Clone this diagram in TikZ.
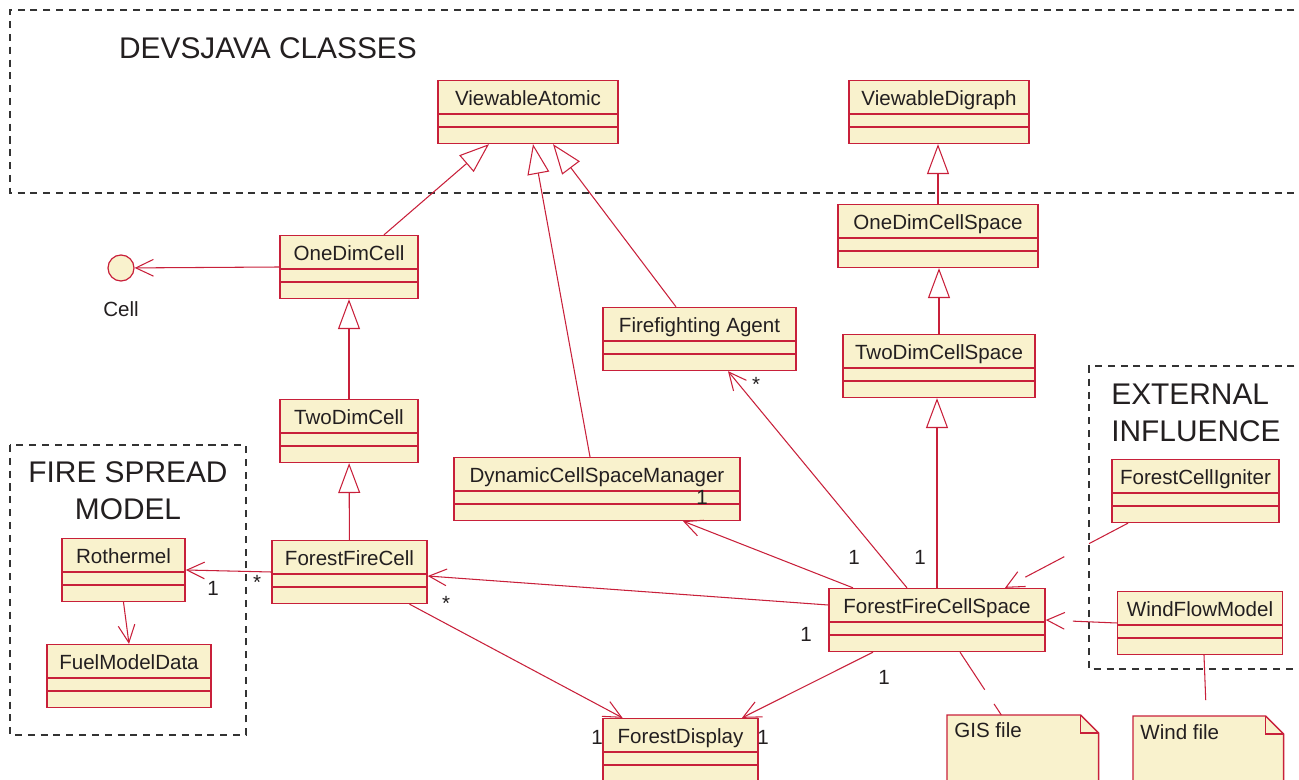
\documentclass[tikz,border=0pt]{standalone}
\usepackage{fontspec}
\setmainfont{Liberation Sans}
\usepackage{xcolor}
\usepackage{tikz}
\usetikzlibrary{shapes.multipart, arrows.meta, calc}
\definecolor{umlRed}{HTML}{C8203A}
\definecolor{umlFill}{HTML}{F9F2CD}
\definecolor{frameGray}{HTML}{333333}
\definecolor{textDark}{HTML}{231F20}
\newcommand{\classparts}[1]{\rule[-0.15cm]{0pt}{0.64cm}#1\nodepart{two}\rule{0pt}{0.22cm}\nodepart{three}\rule{0pt}{0.3cm}}

\begin{document}
\begin{tikzpicture}[x=0.02cm, y=-0.02cm,
    umlclass/.style={rectangle split, rectangle split parts=3, draw=umlRed, fill=umlFill,
                     line width=0.9pt, inner sep=0pt, font=\fontsize{11.7}{14}\selectfont, text=textDark},
    iface/.style={circle, draw=umlRed, fill=umlFill, line width=0.7pt, minimum size=0.52cm, inner sep=0pt},
    pkgframe/.style={draw=frameGray, line width=0.8pt, dash pattern=on 4pt off 3.3pt},
    frametitle/.style={font=\fontsize{17}{21}\selectfont, text=textDark, inner sep=0pt},
    mult/.style={font=\fontsize{11.7}{14}\selectfont, text=textDark, inner sep=0pt},
    gen/.style={-{Triangle[open, length=17pt, width=12.5pt]}, umlRed, line width=0.6pt},
    assoc/.style={-{Straight Barb[length=10pt, width=9.5pt]}, umlRed, line width=0.6pt},
    dep/.style={assoc, dash pattern=on 0.88cm off 0.56cm},
    anchorline/.style={umlRed, line width=0.6pt, dash pattern=on 0.9cm off 0.34cm},
    notebox/.style={rectangle, inner sep=0pt},
    notedraw/.style={draw=umlRed, fill=umlFill, line width=0.8pt},
]
\useasboundingbox (0,0) rectangle (1299,780);
\clip (0,0) rectangle (1299,780);

% Package frames
\draw[pkgframe] (1320,10) -- (10,10) -- (10,193) -- (1320,193);
\draw[pkgframe] (10,445) rectangle (246,735);
\draw[pkgframe] (1320,366) -- (1089,366) -- (1089,669) -- (1320,669);
\node[frametitle] (devstitle) at (268,48) {DEVSJAVA CLASSES};
\node[frametitle, align=center] (firetitle) at (128,491) {FIRE SPREAD\\MODEL};
\node[frametitle, align=left, anchor=west] (exttitle) at (1111,413) {EXTERNAL\\INFLUENCE};

% DEVSJAVA classes
\node[umlclass, minimum width=3.6cm] (vatomic) at (528,112) {\classparts{ViewableAtomic}};
\node[umlclass, minimum width=3.6cm] (vdigraph) at (939,112) {\classparts{ViewableDigraph}};

% Cell hierarchy
\node[iface] (cell) at (121,268) {};
\node[mult] (celllabel) at (121,309) {Cell};
\node[umlclass, minimum width=2.76cm] (onecell) at (349,267) {\classparts{OneDimCell}};
\node[umlclass, minimum width=2.76cm] (twocell) at (349,431) {\classparts{TwoDimCell}};
\node[umlclass, minimum width=3.1cm] (ffcell) at (349.5,572) {\classparts{ForestFireCell}};

% Fire spread model
\node[umlclass, minimum width=2.46cm] (rother) at (123.5,570) {\classparts{Rothermel}};
\node[umlclass, minimum width=3.28cm] (fuel) at (129,676) {\classparts{FuelModelData}};

% Managers and agents
\node[umlclass, minimum width=5.72cm] (dynmgr) at (597,489) {\classparts{DynamicCellSpaceManager}};
\node[umlclass, minimum width=3.86cm] (agent) at (699.5,339) {\classparts{Firefighting Agent}};
\node[umlclass, minimum width=3.1cm] (fdisp) at (680.5,750) {\classparts{ForestDisplay}};

% Cell space hierarchy
\node[umlclass, minimum width=4.0cm] (onespace) at (938,236) {\classparts{OneDimCellSpace}};
\node[umlclass, minimum width=3.84cm] (twospace) at (939,366) {\classparts{TwoDimCellSpace}};
\node[umlclass, minimum width=4.32cm] (ffspace) at (937,620) {\classparts{ForestFireCellSpace}};

% External influence
\node[umlclass, minimum width=3.34cm] (igniter) at (1195.5,491) {\classparts{ForestCellIgniter}};
\node[umlclass, minimum width=3.3cm] (windflow) at (1200,623) {\classparts{WindFlowModel}};

% Notes
\node[notebox, minimum width=3.02cm, minimum height=1.5cm, anchor=north west] (gis) at (947,715) {};
\draw[notedraw] (gis.north west) -- ($(gis.north east)+(-18,0)$) -- ($(gis.north east)+(0,18)$) -- (gis.south east) -- (gis.south west) -- cycle;
\draw[notedraw, fill=none] ($(gis.north east)+(-18,0)$) -- ($(gis.north east)+(-18,18)$) -- ($(gis.north east)+(0,18)$);
\node[mult, anchor=west] (gistext) at (954,730) {GIS file};
\node[notebox, minimum width=3.0cm, minimum height=1.5cm, anchor=north west] (windnote) at (1133,716) {};
\draw[notedraw] (windnote.north west) -- ($(windnote.north east)+(-18,0)$) -- ($(windnote.north east)+(0,18)$) -- (windnote.south east) -- (windnote.south west) -- cycle;
\draw[notedraw, fill=none] ($(windnote.north east)+(-18,0)$) -- ($(windnote.north east)+(-18,18)$) -- ($(windnote.north east)+(0,18)$);
\node[mult, anchor=west] (windtext) at (1140,732) {Wind file};

% Generalizations
\draw[gen] ($(onecell.north)+(35,0)$) -- ($(vatomic.south)+(-39,0)$);
\draw[gen] ($(dynmgr.north)+(-7,0)$) -- ($(vatomic.south)+(5,0)$);
\draw[gen] ($(agent.north)+(-23.5,0)$) -- ($(vatomic.south)+(25,0)$);
\draw[gen] (twocell) -- (onecell);
\draw[gen] (ffcell) -- (twocell);
\draw[gen] (onespace.north) -- (onespace.north |- vdigraph.south);
\draw[gen] (twospace.north) -- (twospace.north |- onespace.south);
\draw[gen] (ffspace.north) -- (ffspace.north |- twospace.south);

% Associations
\draw[assoc] (onecell.west) -- (cell);
\draw[assoc] (ffcell.west) -- (rother.east);
\draw[assoc] (rother.south) -- (fuel.north);
\draw[assoc] ($(ffspace.west)+(0,-15)$) -- ($(ffcell.east)+(0,4)$);
\draw[assoc] ($(ffcell.south)+(60,0)$) -- ($(fdisp.north)+(-58,0)$);
\draw[assoc] ($(ffspace.south)+(-64,0)$) -- ($(fdisp.north)+(61.5,0)$);
\draw[assoc] ($(ffspace.north)+(-84,0)$) -- ($(dynmgr.south)+(86,0)$);
\draw[assoc] ($(ffspace.north)+(-30,0)$) -- ($(agent.south)+(28.5,0)$);
\draw[dep] ($(igniter.south)+(-67.5,0)$) -- ($(ffspace.north)+(68,0)$);
\draw[dep] (windflow.west) -- (ffspace.east);
\draw[anchorline] ($(ffspace.south)+(23,0)$) -- ($(gis.north)+(-21.5,0)$);
\draw[anchorline] ($(windflow.south)+(4,0)$) -- ($(windnote.north)+(-2,0)$);

% Multiplicities
\node[mult] (m1) at (213,588) {1};
\node[mult] (m2) at (257,582) {*};
\node[mult] (m3) at (446,603) {*};
\node[mult] (m4) at (806,634) {1};
\node[mult] (m5) at (884,677) {1};
\node[mult] (m6) at (597,737) {1};
\node[mult] (m7) at (763,737) {1};
\node[mult] (m8) at (702,497) {1};
\node[mult] (m9) at (854,557) {1};
\node[mult] (m10) at (920,557) {1};
\node[mult] (m11) at (756,384) {*};
\end{tikzpicture}
\end{document}
